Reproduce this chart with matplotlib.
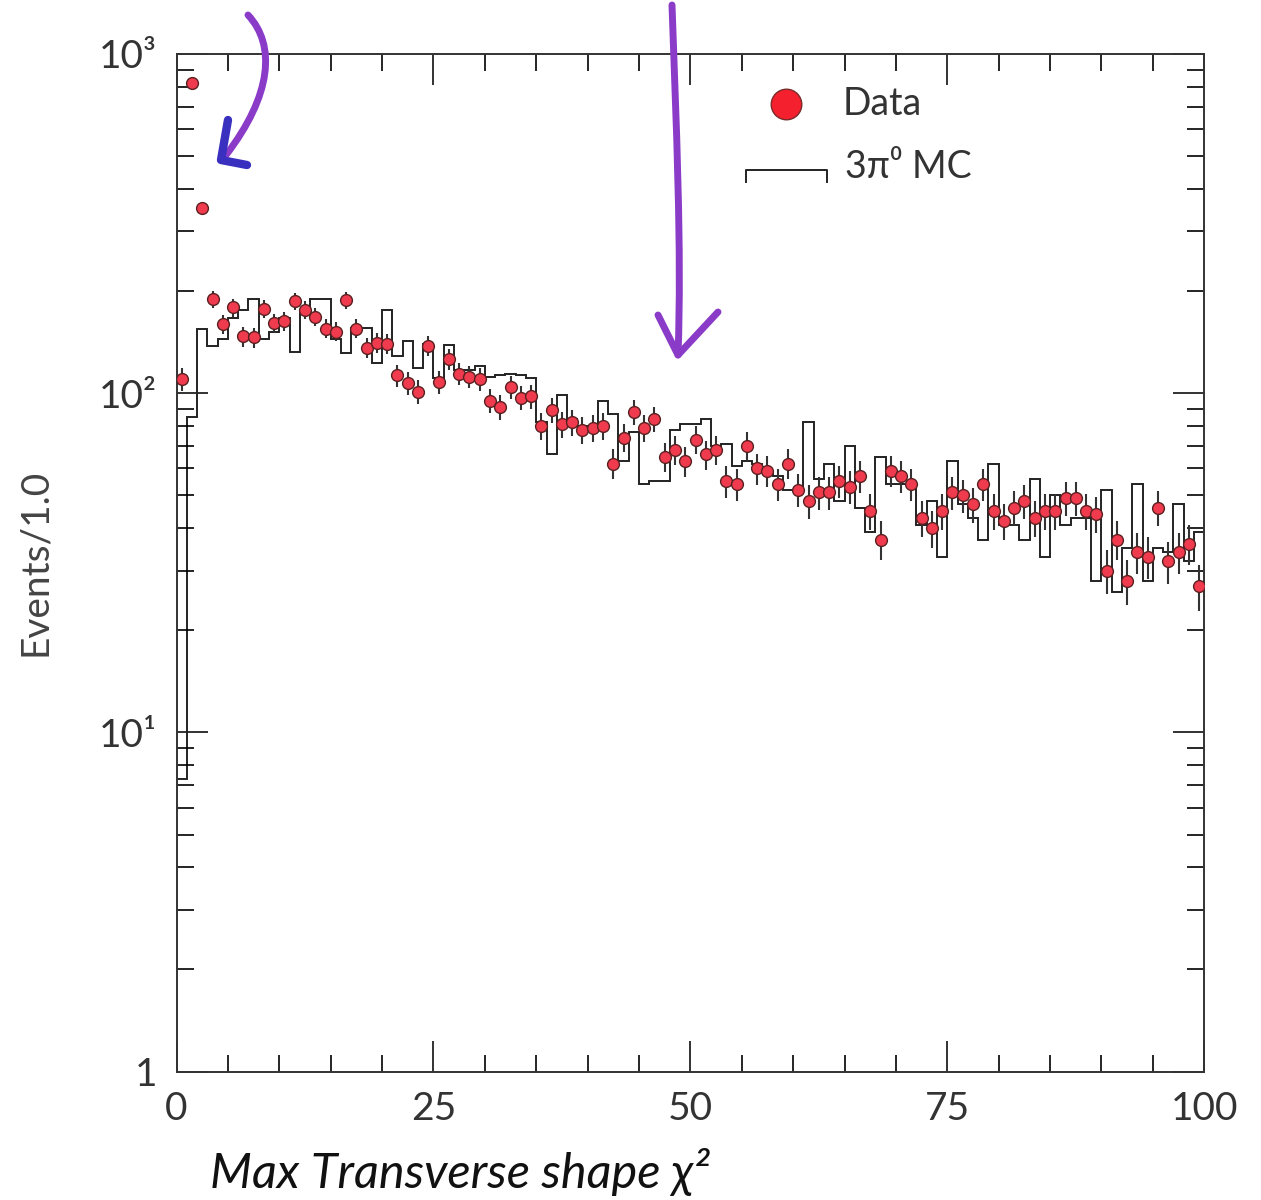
import numpy as np
import matplotlib
matplotlib.use("Agg")
import matplotlib.pyplot as plt
from matplotlib.path import Path
from matplotlib.patches import PathPatch
from matplotlib.ticker import FixedLocator, NullFormatter

plt.rcParams['font.family'] = ['Lato', 'DejaVu Sans']

# ---- data ----
bin_edges = np.arange(0, 101, 1.0)
data_counts = [110, 821, 352, 189, 160, 179, 147, 146, 177, 161,
               163, 187, 176, 168, 155, 152, 188, 155, 136, 141,
               140, 113, 107, 101, 138, 108, 126, 114, 112, 110,
               95, 91, 104, 97, 98, 80, 89, 81, 82, 78,
               79, 80, 62, 74, 88, 79, 84, 65, 68, 63,
               73, 66, 68, 55, 54, 70, 60, 59, 54, 62,
               52, 48, 51, 51, 55, 53, 57, 45, 37, 59,
               57, 54, 43, 40, 45, 51, 50, 47, 54, 45,
               42, 46, 48, 43, 45, 45, 49, 49, 45, 44,
               30, 37, 28, 34, 33, 46, 32, 34, 36, 27]
mc_counts = [7.3, 85, 155, 138, 144, 167, 176, 189, 144, 151,
             167, 132, 174, 189, 189, 144, 131, 156, 156, 123,
             176, 129, 143, 119, 140, 111, 139, 117, 117, 120,
             112, 113, 114, 113, 111, 82, 66, 99, 84, 80,
             80, 95, 87, 63, 77, 54, 55, 55, 78, 81,
             81, 84, 70, 71, 61, 63, 62, 59, 57, 52,
             52, 82, 56, 62, 48, 70, 46, 39, 65, 54,
             54, 54, 41, 48, 33, 63, 47, 43, 37, 62,
             41, 41, 37, 56, 33, 50, 41, 43, 43, 28,
             52, 26, 35, 54, 28, 35, 34, 47, 32, 39]
x_ticks = [0, 25, 50, 75, 100]
y_ticks = [1, 10, 100, 1000]
y_ticklabels = ["1", "10\u00b9", "10\u00b2", "10\u00b3"]

data = np.array(data_counts, dtype=float)
mc = np.array(mc_counts, dtype=float)
centers = 0.5 * (bin_edges[:-1] + bin_edges[1:])
errs = 0.8 * np.sqrt(data)

fig = plt.figure(figsize=(12.61, 12.0), dpi=100)
ax = fig.add_axes([0.140, 0.107, 0.815, 0.848])

ax.stairs(mc, bin_edges, baseline=None, color='#222222', linewidth=1.4)
ax.errorbar(centers, data, yerr=errs, fmt='none', ecolor='#333333',
            elinewidth=1.5, capsize=0, zorder=3)
ax.plot(centers, data, 'o', ms=8.5, mfc='#f03a4e', mec='#5a2020',
        mew=1.0, zorder=4, linestyle='none')

ax.set_yscale('log')
ax.set_xlim(0, 100)
ax.set_ylim(1, 1000)

ax.xaxis.set_major_locator(FixedLocator(x_ticks))
ax.xaxis.set_minor_locator(FixedLocator(list(range(0, 101, 5))))
ax.set_xticklabels([str(t) for t in x_ticks])
ax.yaxis.set_major_locator(FixedLocator(y_ticks))
ax.set_yticklabels(y_ticklabels)
ax.yaxis.set_minor_formatter(NullFormatter())

ax.tick_params(axis='both', which='major', direction='in', length=22, width=1.3,
               top=True, right=True, labelsize=28, colors='#222222',
               labelcolor='#333333')
ax.tick_params(axis='both', which='minor', direction='in', length=12, width=1.2,
               top=True, right=True)
ax.tick_params(axis='x', which='major', pad=14)
ax.tick_params(axis='y', which='major', pad=14)
for sp in ax.spines.values():
    sp.set_linewidth(1.4)
    sp.set_color('#333333')

ax.set_ylabel('Events/1.0', fontsize=28, color='#444444')
ax.yaxis.set_label_coords(-0.12, 0.5)

# legend drawn in axes coordinates
ax.plot([0.593], [0.951], 'o', ms=22, mfc='#f5202e', mec='#7a2a2a', mew=1.0,
        transform=ax.transAxes, clip_on=False)
ax.text(0.648, 0.951, 'Data', transform=ax.transAxes, fontsize=27,
        va='center', ha='left', color='#333333')
ax.plot([0.554, 0.554, 0.633, 0.633], [0.874, 0.886, 0.886, 0.874],
        color='#222222', lw=1.4, transform=ax.transAxes, clip_on=False)
ax.text(0.650, 0.889, '3\u03c0\u2070 MC', transform=ax.transAxes, fontsize=27,
        va='center', ha='left', color='#333333')

# x-axis title (handwritten in the original)
fig.text(210 / 1261, 1 - 1172 / 1200, 'Max Transverse shape \u03c7\u00b2',
         fontsize=35, ha='left', va='center', color='#111111', style='italic')

# hand-drawn arrows
W, H = 1261.0, 1200.0
def fpt(x, y):
    return (x / W, 1 - y / H)

arrow_col = '#8a3cc8'
p1 = Path([fpt(248, 15), fpt(276, 45), fpt(272, 95), fpt(226, 155)],
          [Path.MOVETO, Path.CURVE4, Path.CURVE4, Path.CURVE4])
fig.add_artist(PathPatch(p1, transform=fig.transFigure, fc='none',
                         ec=arrow_col, lw=5, capstyle='round'))
p1h = Path([fpt(228, 120), fpt(221, 160), fpt(247, 165)],
           [Path.MOVETO, Path.LINETO, Path.LINETO])
fig.add_artist(PathPatch(p1h, transform=fig.transFigure, fc='none',
                         ec='#3a30c0', lw=6, capstyle='round', joinstyle='round'))

p2 = Path([fpt(672, 5), fpt(676, 120), fpt(682, 250), fpt(678, 355)],
          [Path.MOVETO, Path.CURVE4, Path.CURVE4, Path.CURVE4])
fig.add_artist(PathPatch(p2, transform=fig.transFigure, fc='none',
                         ec=arrow_col, lw=5, capstyle='round'))
p2h = Path([fpt(658, 315), fpt(678, 355), fpt(718, 312)],
           [Path.MOVETO, Path.LINETO, Path.LINETO])
fig.add_artist(PathPatch(p2h, transform=fig.transFigure, fc='none',
                         ec=arrow_col, lw=5, capstyle='round', joinstyle='round'))

fig.savefig('out.png', dpi=100, facecolor='white')
